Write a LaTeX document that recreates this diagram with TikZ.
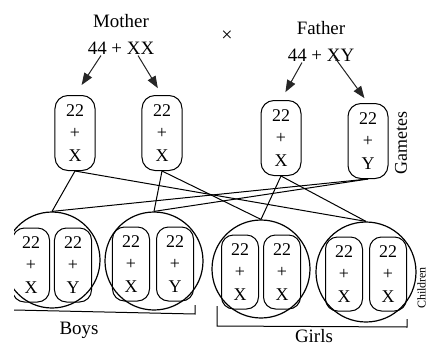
\documentclass[tikz,border=0pt]{standalone}
\usepackage{fontspec}
\setmainfont{Liberation Serif}
\usetikzlibrary{arrows.meta}
\begin{document}
\begin{tikzpicture}[x=1bp,y=-1bp,line width=1bp,
    gamete/.style={draw,rounded corners=13bp,minimum width=40bp,minimum height=75bp,inner sep=0pt,align=center,font=\fontsize{18}{23}\selectfont},
    child/.style={draw,rounded corners=12bp,minimum width=37bp,minimum height=74bp,inner sep=0pt,align=center,font=\fontsize{18}{23}\selectfont},
    zygote/.style={draw,circle,inner sep=0pt,line width=1.2bp},
    arr/.style={-{Triangle[length=12bp,width=9bp]},line width=1bp,draw=black!85,fill=black!75},
    label/.style={align=center,inner sep=1bp,font=\fontsize{19}{27}\selectfont}]
    \useasboundingbox (0,0) rectangle (428,347);
    \clip (14,0) rectangle (428,347);
    \node[label] (mother) at (121,34) {Mother\\44 + XX};
    \node[label] (father) at (321,41) {Father\\44 + XY};
    \node[font=\fontsize{20}{20}\selectfont] (cross) at (227,36) {×};
    \node[gamete] (g1) at (75,133) {22\\+\\X};
    \node[gamete] (g2) at (162,133) {22\\+\\X};
    \node[gamete] (g3) at (281,138) {22\\+\\X};
    \node[gamete] (g4) at (368,141) {22\\+\\Y};
    \node[rotate=90,font=\fontsize{18}{18}\selectfont] (gametes) at (401,143) {Gametes};
    \draw[arr,shorten >=12bp] ([xshift=-20bp]mother.south) -- (g1.north);
    \draw[arr,shorten >=8bp] ([xshift=17bp]mother.south) -- (g2.north);
    \draw[arr,shorten >=9bp] ([xshift=-19bp]father.south) -- (g3.north);
    \draw[arr,shorten >=6bp] ([xshift=13bp,yshift=6bp]father.south) -- (g4.north);
    \node[zygote,minimum size=96bp] (c1) at (52,260) {};
    \node[zygote,minimum size=98bp] (c2) at (154,261) {};
    \node[zygote,minimum size=98bp] (c3) at (261,269) {};
    \node[zygote,minimum size=100bp] (c4) at (366,272) {};
    \node[child] (c1a) at (31,265) {22\\+\\X};
    \node[child] (c1b) at (73,265) {22\\+\\Y};
    \node[child] (c2a) at (131,264) {22\\+\\X};
    \node[child] (c2b) at (175,264) {22\\+\\Y};
    \node[child] (c3a) at (240,272) {22\\+\\X};
    \node[child] (c3b) at (282,272) {22\\+\\X};
    \node[child] (c4a) at (344,274) {22\\+\\X};
    \node[child] (c4b) at (388,274) {22\\+\\X};
    \node[rotate=90,inner sep=0pt,font=\fontsize{12}{12}\selectfont] (children) at (421.5,288) {Children};
    \draw (g1.south) -- (c1.north);
    \draw (g1.south) -- (c4.north);
    \draw (g2.south) -- (c2.north);
    \draw (g2.south) -- (c3.north);
    \draw (g3.south) -- (c3.north);
    \draw (g3.south) -- (c4.north);
    \draw (g4.south) -- (c1.north);
    \draw (g4.south) -- (c2.north);
    \draw (14,310) -- (195,314) -- (195,305);
    \draw (217,306) -- (217,326) -- (407,327) -- (407,319);
    \node[label] (boys) at (79,330) {Boys};
    \node[label,inner sep=0pt] (girls) at (314,336) {Girls};
\end{tikzpicture}
\end{document}
